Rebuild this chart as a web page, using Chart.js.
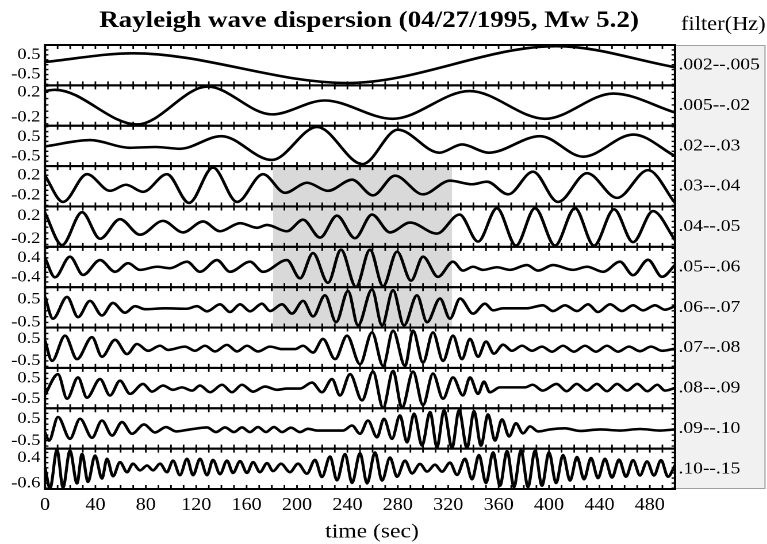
<!DOCTYPE html>
<html>
<head>
<meta charset="utf-8">
<script src="https://cdn.jsdelivr.net/npm/chart.js@4.4.0/dist/chart.umd.min.js"></script>
<style>
  html, body { margin: 0; padding: 0; background: #fff; overflow: hidden; }
  /* the original figure is stretched sideways, so the canvas is too */
  #wrap { width: 667px; height: 544px; transform: scaleX(1.15); transform-origin: 0 0; }
</style>
</head>
<body>
<div id="wrap"><canvas id="waveChart" width="667" height="544"></canvas></div>
<script>
// === data: [time (sec), amplitude] at peaks and troughs ===
const bandLabels = ['.002--.005', '.005--.02', '.02--.03', '.03--.04', '.04--.05', '.05--.06',
                    '.06--.07', '.07--.08', '.08--.09', '.09--.10', '.10--.15'];
const panelTicks = [[0.5, -0.5], [0.2, -0.2], [0.5, -0.5], [0.2, -0.2], [0.2, -0.2], [0.4, -0.4],
                    [0.5, -0.5], [0.5, -0.5], [0.5, -0.5], [0.5, -0.5], [0.4, -0.6]];
const panelMin = [-1.05, -0.33, -1.0, -0.42, -0.34, -0.82, -0.72, -0.82, -0.97, -0.87, -0.83];
const panelMax = [1.0, 0.31, 1.05, 0.38, 0.36, 0.86, 1.02, 1.02, 1.02, 0.98, 0.75];
const timeTicks = [0, 40, 80, 120, 160, 200, 240, 280, 320, 360, 400, 440, 480];
const shadeFrom = 181, shadeTo = 323;   // grey window, sec
const shadedPanels = [3, 4, 5, 6];

const wave1 = [[0, 0.14], [70, 0.58], [240, -0.93], [406, 0.94], [500, -0.13]];
const wave2 = [[0, 0.22], [8, 0.24], [73, -0.31], [129, 0.29], [180, -0.15], [222, 0.07], [276, -0.22],
               [337, 0.22], [397, -0.22], [451, 0.18], [500, -0.12]];
const wave3 = [[0, 0], [36, 0.32], [67, -0.07], [88, -0.03], [107, -0.12], [140, 0.52], [180, -0.69],
               [216, 0.99], [252, -0.9], [280, 0.85], [313, -0.32], [331, 0.1], [352, -0.32], [393, 0.52],
               [427, -0.52], [467, 0.6], [500, -0.49]];
const wave4 = [[0, 0.19], [14.3, -0.33], [33.3, 0.22], [51.6, -0.11], [64.3, 0.01], [77.8, -0.13], [96.8, 0.22],
               [114.3, -0.35], [133.3, 0.35], [152.4, -0.33], [173, 0.22], [190.5, -0.15], [208, 0.05],
               [224.6, -0.11], [243.7, 0.11], [260.3, -0.2], [277.8, 0.19], [300, -0.18], [321.4, 0.09],
               [338.9, 0.02], [350.8, 0.07], [367.5, -0.18], [387.3, 0.27], [407.1, -0.33], [430.2, 0.24],
               [454, -0.25], [478.6, 0.3], [500, -0.35]];
const wave5 = [[0, 0.25], [13.5, -0.31], [29.4, 0.26], [43.7, -0.2], [59.5, 0.14], [75.4, -0.13], [93.7, 0.11],
               [109.5, -0.09], [125.4, 0.1], [138.9, -0.07], [154.8, 0.07], [168.3, -0.01], [176.2, 0.04],
               [192, -0.07], [204.8, 0.13], [218.3, -0.18], [231.7, 0.2], [246, -0.19], [259.5, 0.22],
               [273.8, -0.09], [289.7, 0.08], [311, -0.11], [329, 0.22], [343.7, -0.25], [358.7, 0.33],
               [373.8, -0.32], [388.9, 0.33], [404.8, -0.32], [420.6, 0.33], [435.7, -0.32], [451.6, 0.31],
               [466.7, -0.26], [482.5, 0.28], [500, -0.22]];
const wave6 = [[0, 0.4], [7.9, -0.41], [19.8, 0.45], [30.2, -0.31], [43.7, 0.31], [55.6, -0.18], [65.9, 0.18],
               [75.4, -0.1], [88.9, 0.03], [99.2, -0.03], [112.7, 0.24], [123, -0.18], [136.5, 0.31],
               [146.8, -0.18], [162.7, 0.24], [173, -0.18], [192, 0.31], [202.4, -0.45], [212.7, 0.6],
               [224.6, -0.64], [234.9, 0.74], [246.8, -0.81], [257.9, 0.74], [268.3, -0.78], [279.4, 0.66],
               [290.5, -0.55], [300, 0.45], [311.9, -0.39], [323.8, 0.24], [331.7, -0.13], [339.7, 0.03],
               [347.6, -0.1], [358.7, 0.01], [369, -0.1], [382.5, 0.1], [391.3, -0.13], [403.2, 0.1],
               [419, -0.1], [430.2, 0.03], [442.9, -0.18], [456.3, 0.24], [466.7, -0.32], [478.6, 0.32],
               [489.7, -0.39], [500, 0.1]];
const wave7 = [[0, 0.6], [6.3, -0.34], [17.5, 0.6], [26.2, -0.27], [35.7, 0.43], [45.2, -0.2], [53.9, 0.34],
               [63.5, -0.08], [71.4, 0.2], [79.4, 0.07], [95.2, 0.11], [112.7, 0.09], [120.6, 0.2],
               [128.6, -0.02], [138.9, 0.28], [146.8, -0.05], [154.8, 0.28], [162.7, -0.02], [172.2, 0.31],
               [178.6, -0.01], [188.1, 0.28], [196, -0.12], [204.8, 0.43], [212.7, -0.24], [222.2, 0.67],
               [231, -0.49], [240.5, 0.86], [248.4, -0.63], [259.5, 0.92], [267.5, -0.63], [276.2, 0.89],
               [284.9, -0.63], [295.2, 0.67], [303.2, -0.49], [313.5, 0.53], [321.4, -0.34], [329.4, 0.53],
               [339.7, -0.12], [349.2, 0.31], [355.6, 0.02], [363.5, 0.11], [382.5, 0.11], [395.2, 0.24],
               [403.2, -0.01], [412.7, 0.24], [422.2, -0.01], [431, 0.28], [438.9, -0.05], [448.4, 0.28],
               [457.9, -0.01], [466.7, 0.24], [474.6, 0.02], [484.1, 0.24], [492.1, 0.05], [500, 0.2]];
const wave8 = [[0, 0.42], [5.6, -0.5], [15.9, 0.65], [25.4, -0.42], [37.3, 0.58], [45.2, -0.31], [55.6, 0.46],
               [65.1, -0.19], [73, 0.27], [81.7, -0.04], [91.3, 0.19], [97.6, 0], [111.1, 0.15], [119, -0.04],
               [127, 0.19], [134.9, -0.07], [144.4, 0.23], [152.4, -0.07], [160.3, 0.19], [169, -0.07],
               [178.6, 0.15], [188.1, 0.04], [198.4, 0.04], [204.8, 0.19], [212.7, -0.12], [220.6, 0.5],
               [230.2, -0.42], [239.7, 0.65], [250, -0.65], [259.5, 0.8], [268.3, -0.73], [276.2, 0.88],
               [285.7, -0.73], [292.1, 0.88], [300, -0.58], [307.9, 0.8], [315.9, -0.5], [323.8, 0.65],
               [330.9, -0.42], [337.3, 0.5], [343.7, -0.31], [350, 0.38], [356.3, -0.17], [363.5, 0.24],
               [370.6, -0.04], [378.6, 0.19], [386.5, -0.04], [394.4, 0.15], [402.4, -0.08], [411.1, 0.19],
               [419.8, -0.08], [428.6, 0.19], [437.3, -0.08], [446, 0.19], [454.8, -0.08], [463.5, 0.15],
               [472.2, -0.06], [481, 0.15], [489.7, -0.04], [500, 0.06]];
const wave9 = [[0, -0.3], [10.3, 0.71], [17.5, -0.5], [26.2, 0.55], [33.3, -0.45], [43.7, 0.47], [51.6, -0.34],
               [59.5, 0.39], [67.5, -0.26], [77.8, 0.23], [84.9, -0.15], [93.7, 0.15], [101.6, -0.06],
               [108.7, 0.06], [116.7, -0.1], [123, 0.15], [131, -0.18], [140.5, 0.19], [148.4, -0.18],
               [156.3, 0.19], [165.1, -0.15], [174.6, 0.1], [184.1, -0.06], [192, 0], [202.4, 0], [211.9, 0.3],
               [219.8, -0.18], [227.8, 0.47], [234.1, -0.34], [242.1, 0.71], [251.6, -0.58], [260.3, 0.84],
               [268.3, -0.95], [276.2, 0.87], [283.3, -0.95], [292.1, 0.84], [300, -0.82], [307.9, 0.74],
               [315.9, -0.5], [323.8, 0.55], [331.7, -0.34], [337.3, 0.55], [343.7, -0.26], [348.4, 0.34],
               [353, -0.18], [361, 0.06], [381, 0.06], [387, 0.19], [395, -0.1], [406, 0.23], [414, -0.13],
               [422, 0.23], [430, -0.1], [438, 0.23], [446, -0.13], [454, 0.23], [462, -0.1], [470, 0.23],
               [478, -0.13], [486, 0.19], [492, -0.1], [500, 0.03]];
const wave10 = [[0, -0.13], [3.2, -0.5], [10.3, 0.58], [19.8, -0.42], [27.8, 0.5], [37.3, -0.37], [45.2, 0.42],
                [53.2, -0.27], [61.1, 0.35], [69, -0.19], [78.6, 0.24], [87.3, -0.13], [96, 0.12], [104, -0.08],
                [115, 0.01], [128.6, 0.1], [135.7, -0.11], [142.9, 0.1], [150, -0.11], [156.3, 0.1],
                [162.7, -0.11], [169, 0.12], [175.4, -0.11], [181.7, 0.12], [188.1, -0.11], [195.2, 0.09],
                [202.4, -0.11], [208.7, 0.04], [215.9, -0.04], [236.5, -0.04], [243.7, 0.19], [250, -0.19],
                [256.3, 0.42], [263.5, -0.35], [269, 0.5], [275.4, -0.42], [281.7, 0.65], [287.3, -0.58],
                [292.9, 0.73], [299.2, -0.73], [305.6, 0.8], [311.1, -0.8], [316.7, 0.88], [323, -0.84],
                [328.6, 0.88], [334.9, -0.84], [340.5, 0.84], [346, -0.73], [351.6, 0.7], [357.1, -0.5],
                [362.7, 0.47], [368.3, -0.31], [373.8, 0.29], [379.4, -0.17], [384.9, 0.15], [391.3, -0.08],
                [400.8, 0.01], [412.7, 0.06], [424.6, -0.06], [440.5, 0.01], [456.3, -0.04], [472.2, 0.03],
                [488.1, -0.04], [500, 0.01]];
const wave11 = [[0, 0], [4, -0.8], [9.5, 0.7], [14.3, -0.77], [19.8, 0.67], [25.4, -0.61], [29.4, 0.54],
                [34.1, -0.55], [39.7, 0.48], [45.2, -0.42], [49.2, 0.35], [54, -0.33], [59.5, 0.22],
                [65.1, -0.17], [69.8, 0.16], [75.4, -0.1], [81, 0.09], [85.7, -0.1], [91.3, 0.16], [96.8, -0.17],
                [101.6, 0.28], [107.1, -0.29], [112.7, 0.35], [117.5, -0.29], [123, 0.35], [128.6, -0.29],
                [133.3, 0.31], [138.9, -0.25], [144.4, 0.28], [149.2, -0.2], [154.8, 0.26], [160.3, -0.2],
                [165.1, 0.22], [170.6, -0.17], [176.2, 0.18], [181, -0.13], [187.3, 0.16], [194.4, -0.17],
                [200.8, 0.16], [207.9, -0.23], [214.3, 0.31], [219.8, -0.36], [226.2, 0.44], [231.7, -0.49],
                [238.1, 0.54], [243.7, -0.59], [250, 0.57], [255.6, -0.61], [261.9, 0.6], [267.5, -0.5],
                [273.8, 0.4], [279.4, -0.35], [285.7, 0.28], [291.3, -0.22], [297.6, 0.15], [303.2, -0.15],
                [309.5, 0.12], [315.1, -0.15], [321.4, 0.2], [327, -0.28], [333.3, 0.35], [338.9, -0.45],
                [344.4, 0.5], [350, -0.6], [355.6, 0.6], [361.1, -0.7], [366.7, 0.65], [372.2, -0.75],
                [377.8, 0.68], [383.3, -0.75], [388.9, 0.66], [394.4, -0.7], [400, 0.6], [405.6, -0.6],
                [411.1, 0.5], [416.7, -0.5], [422.2, 0.42], [427.8, -0.45], [433.3, 0.38], [438.9, -0.4],
                [444.4, 0.35], [450, -0.38], [455.6, 0.32], [461.1, -0.35], [466.7, 0.3], [472.2, -0.3],
                [477.8, 0.25], [483.3, -0.3], [488.9, 0.3], [494.4, -0.35], [500, 0.1]];
const waves = [wave1, wave2, wave3, wave4, wave5, wave6, wave7, wave8, wave9, wave10, wave11];

// === layout ===
const SX = 1.15;   // sideways stretch of the wrapper
const serif = "'Liberation Serif', 'Times New Roman', serif";

const scales = {
  x: {
    type: 'linear', min: 0, max: 500,
    afterBuildTicks: ax => { ax.ticks = timeTicks.map(v => ({ value: v })); },
    afterFit: ax => { ax.height = 55; },
    grid: { display: false, drawTicks: false },
    border: { display: false },
    ticks: { font: { family: serif, size: 17.5 }, color: '#000', padding: 6, maxRotation: 0, autoSkip: false }
  }
};
waves.forEach((w, i) => {
  scales['y' + i] = {
    type: 'linear', position: 'left', stack: 'panels', weight: waves.length - i,
    min: panelMin[i], max: panelMax[i],
    afterBuildTicks: ax => { ax.ticks = panelTicks[i].map(v => ({ value: v })); },
    afterFit: ax => { ax.width = 45 / SX; },
    grid: { display: false, drawTicks: false },
    border: { display: false },
    ticks: { font: { family: serif, size: 16 }, color: '#000', padding: 4, autoSkip: false,
             callback: v => String(v) }
  };
});

const datasets = waves.map((w, i) => ({
  data: w.map(([t, v]) => ({ x: t, y: v })),
  xAxisID: 'x',
  yAxisID: 'y' + i,
  borderColor: '#000',
  borderWidth: 2.6,
  borderJoinStyle: 'round',
  pointRadius: 0,
  cubicInterpolationMode: 'monotone',
  fill: false
}));

// boxes, grey window, inner ticks and the texts round the plot
const panelDecor = {
  id: 'panelDecor',
  beforeDatasetsDraw(chart) {
    const { ctx, chartArea: a, scales: s } = chart;
    ctx.save();
    // filter column
    ctx.fillStyle = '#f1f1f1';
    ctx.fillRect(a.right, a.top, 765 / SX - a.right, a.bottom - a.top);
    ctx.strokeStyle = '#a0a0a0';
    ctx.lineWidth = 1;
    ctx.strokeRect(a.right, a.top + 0.5, 765 / SX - a.right, a.bottom - a.top - 1);
    // grey time window
    const top = s['y' + shadedPanels[0]].top;
    const bottom = s['y' + shadedPanels[shadedPanels.length - 1]].bottom;
    const x0 = s.x.getPixelForValue(shadeFrom), x1 = s.x.getPixelForValue(shadeTo);
    ctx.fillStyle = '#d9d9d9';
    ctx.fillRect(x0, top, x1 - x0, bottom - top);
    ctx.restore();
  },
  afterDatasetsDraw(chart) {
    const { ctx, chartArea: a, scales: s } = chart;
    ctx.save();
    ctx.strokeStyle = '#000';
    waves.forEach((w, i) => {
      const y = s['y' + i];
      ctx.lineWidth = 1.4;
      ctx.beginPath();
      for (let t = 10; t < 500; t += 10) {
        const px = s.x.getPixelForValue(t);
        ctx.moveTo(px, y.top); ctx.lineTo(px, y.top + 4);
        ctx.moveTo(px, y.bottom); ctx.lineTo(px, y.bottom - 4);
      }
      const step = Math.abs(panelTicks[i][0]) / 2;
      for (let k = Math.ceil(y.min / step); k * step <= y.max; k++) {
        const py = y.getPixelForValue(k * step);
        ctx.moveTo(a.left, py); ctx.lineTo(a.left + 3, py);
        ctx.moveTo(a.right, py); ctx.lineTo(a.right - 3, py);
      }
      ctx.stroke();
      ctx.lineWidth = 2;
      ctx.strokeRect(a.left, y.top, a.right - a.left, y.bottom - y.top);
    });
    ctx.restore();
  },
  afterDraw(chart) {
    const { ctx, chartArea: a, scales: s } = chart;
    ctx.save();
    ctx.fillStyle = '#000';
    ctx.textBaseline = 'middle';
    ctx.textAlign = 'center';
    ctx.font = 'bold 23.5px ' + serif;
    ctx.fillText('Rayleigh wave dispersion (04/27/1995, Mw 5.2)', 369 / SX, 21);
    ctx.font = '20.5px ' + serif;
    ctx.fillText('time (sec)', 372 / SX, 532);
    ctx.textAlign = 'left';
    ctx.font = '19.5px ' + serif;
    ctx.fillText('filter(Hz)', 681 / SX, 25);
    ctx.font = '17px ' + serif;
    bandLabels.forEach((lab, i) => {
      const y = s['y' + i];
      ctx.fillText(lab, a.right + 3, (y.top + y.bottom) / 2);
    });
    ctx.restore();
  }
};

new Chart(document.getElementById('waveChart'), {
  type: 'line',
  data: { datasets },
  options: {
    responsive: false,
    devicePixelRatio: 2,
    animation: false,
    layout: { padding: { left: 0, right: 667 - 675 / SX, top: 45, bottom: 0 } },
    scales,
    plugins: { legend: { display: false }, tooltip: { enabled: false } }
  },
  plugins: [panelDecor]
});
</script>
</body>
</html>
